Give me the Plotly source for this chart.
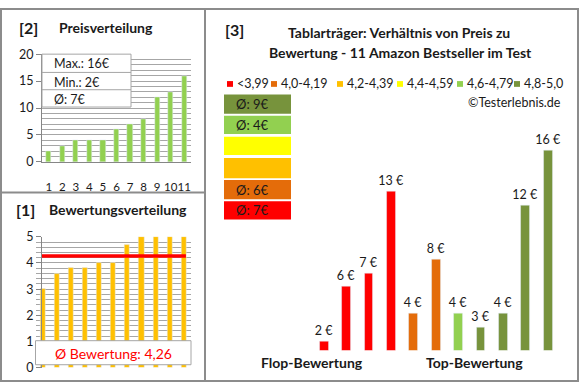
import plotly.graph_objects as go

# ---------------- data ----------------
price_idx = [1, 2, 3, 4, 5, 6, 7, 8, 9, 10, 11]
prices_sorted = [2, 3, 4, 4, 4, 6, 7, 8, 12, 13, 16]
price_ticks = [0, 5, 10, 15, 20]

rating_idx = [1, 2, 3, 4, 5, 6, 7, 8, 9, 10, 11]
ratings_sorted = [3.0, 3.6, 3.8, 3.8, 4.0, 4.0, 4.7, 5.0, 5.0, 5.0, 5.0]
rating_ticks = [0, 1, 2, 3, 4, 5]

prod_idx = [1, 2, 3, 4, 5, 6, 7, 8, 9, 10, 11]
prod_prices = [2, 6, 7, 13, 4, 8, 4, 3, 4, 12, 16]
prod_class = [0, 0, 0, 0, 1, 1, 4, 5, 5, 5, 5]

class_labels = ["<3,99", "4,0-4,19", "4,2-4,39", "4,4-4,59", "4,6-4,79", "4,8-5,0"]
class_colors = ["#FF0000", "#E46C0A", "#FFC000", "#FFFF00", "#92D050", "#77933C"]

FONT = "Lato"
W, H = 580, 390


def px(x):
    return x / W


def py(y):
    return 1 - y / H


fig = go.Figure()

# ---------- [2] Preisverteilung ----------
fig.add_trace(go.Bar(x=price_idx, y=prices_sorted, marker_color="#92D050",
                     width=0.38, xaxis="x", yaxis="y", showlegend=False))

# ---------- [1] Bewertungsverteilung ----------
fig.add_trace(go.Bar(x=rating_idx, y=ratings_sorted, marker_color="#FFC000",
                     width=0.36, xaxis="x2", yaxis="y2", showlegend=False))
avg_rating = sum(ratings_sorted) / len(ratings_sorted)
fig.add_trace(go.Scatter(x=[0.93, 11.14], y=[avg_rating, avg_rating], mode="lines",
                         line=dict(color="#FF0000", width=3.5),
                         xaxis="x2", yaxis="y2", showlegend=False))

# ---------- [3] product bars ----------
fig.add_trace(go.Bar(x=prod_idx, y=prod_prices,
                     marker_color=[class_colors[c] for c in prod_class],
                     width=0.4, text=[f"{p} €" for p in prod_prices],
                     textposition="outside", cliponaxis=False, constraintext="none",
                     textfont=dict(family=FONT, size=12.5, color="#1a1a1a"),
                     xaxis="x3", yaxis="y3", showlegend=False))

grid = "#a6a6a6"
axfont = dict(family=FONT, size=12.5, color="#1a1a1a")

fig.update_layout(
    width=W, height=H, margin=dict(l=0, r=0, t=0, b=0),
    paper_bgcolor="white", plot_bgcolor="white", bargap=0,
    xaxis=dict(domain=[px(42), px(191)], range=[0.5, 11.5], tickmode="array",
               tickvals=price_idx, ticktext=[str(i) for i in price_idx],
               tickangle=0, showgrid=False, showline=True, linecolor="#868686",
               ticks="outside", ticklen=14, tickcolor="rgba(0,0,0,0)",
               tickfont=dict(family=FONT, size=11.5, color="#1a1a1a"),
               zeroline=False, fixedrange=True),
    yaxis=dict(domain=[py(160), py(48)], range=[0, 20], tickmode="array",
               tickvals=price_ticks, ticktext=[str(t) for t in price_ticks],
               showgrid=True, gridcolor=grid, gridwidth=1,
               minor=dict(dtick=1, showgrid=True, gridcolor=grid, gridwidth=1),
               showline=True, linecolor="#868686", ticks="outside", ticklen=5,
               tickcolor="#868686", tickfont=axfont, zeroline=False),
    xaxis2=dict(domain=[px(35.5), px(191)], range=[0.5, 11.5], showticklabels=False,
                showgrid=False, showline=False, zeroline=False),
    yaxis2=dict(domain=[py(374), py(238)], range=[0, 5], tickmode="array",
                tickvals=rating_ticks, ticktext=[str(t) for t in rating_ticks],
                showgrid=True, gridcolor=grid, gridwidth=1,
                minor=dict(dtick=0.2, showgrid=True, gridcolor=grid, gridwidth=1),
                showline=True, linecolor="#868686", ticks="outside", ticklen=5,
                tickcolor="#868686", tickfont=axfont, zeroline=False),
    xaxis3=dict(domain=[px(312.8), px(559.2)], range=[0.5, 11.5], visible=False),
    yaxis3=dict(domain=[py(356), py(120)], range=[1.32, 18], visible=False),
)

shapes = []
ann = []

# borders
bc = "#8c8c8c"
shapes.append(dict(type="rect", xref="paper", yref="paper", x0=px(1), x1=px(578),
                   y0=py(388), y1=py(1), line=dict(color=bc, width=2)))
shapes.append(dict(type="line", xref="paper", yref="paper", x0=px(205), x1=px(205),
                   y0=py(388), y1=py(1), line=dict(color=bc, width=2)))
shapes.append(dict(type="line", xref="paper", yref="paper", x0=px(1), x1=px(205),
                   y0=py(192), y1=py(192), line=dict(color=bc, width=2)))

# headers
hfont = dict(family=FONT, size=16, color="#1a1a1a")
ann.append(dict(text="<b>[2]</b>", x=px(17), y=py(20), xanchor="left", yanchor="middle",
                font=hfont))
ann.append(dict(text="<b>Preisverteilung</b>", x=px(57), y=py(20), xanchor="left",
                yanchor="middle", font=dict(family=FONT, size=14, color="#1a1a1a")))
ann.append(dict(text="<b>[1]</b>", x=px(14), y=py(210), xanchor="left", yanchor="middle",
                font=hfont))
ann.append(dict(text="<b>Bewertungsverteilung</b>", x=px(47), y=py(210), xanchor="left",
                yanchor="middle", font=dict(family=FONT, size=14, color="#1a1a1a")))
ann.append(dict(text="<b>[3]</b>", x=px(223), y=py(22), xanchor="left", yanchor="middle",
                font=hfont))
ann.append(dict(text="<b>Tablarträger: Verhältnis von Preis zu</b>", x=px(399), y=py(26),
                xanchor="center", yanchor="middle",
                font=dict(family=FONT, size=14, color="#1a1a1a")))
ann.append(dict(text="<b>Bewertung - 11 Amazon Bestseller im Test</b>", x=px(400), y=py(46),
                xanchor="center", yanchor="middle",
                font=dict(family=FONT, size=14, color="#1a1a1a")))

# price stats box
shapes.append(dict(type="rect", xref="paper", yref="paper", x0=px(42), x1=px(131),
                   y0=py(103), y1=py(48), fillcolor="white", line=dict(color="#a6a6a6", width=1)))
for yy in (67, 85):
    shapes.append(dict(type="line", xref="paper", yref="paper", x0=px(42), x1=px(131),
                       y0=py(yy), y1=py(yy), line=dict(color="#a6a6a6", width=1)))
stats = [f"Max.: {max(prices_sorted)}€", f"Min.: {min(prices_sorted)}€",
         f"Ø: {round(sum(prices_sorted) / len(prices_sorted))}€"]
for s, yy in zip(stats, (58, 77, 95)):
    ann.append(dict(text=s, x=px(52), y=py(yy), xanchor="left", yanchor="middle",
                    font=dict(family=FONT, size=12.5, color="#1a1a1a")))

# rating average box
shapes.append(dict(type="rect", xref="paper", yref="paper", x0=px(35.5), x1=px(191),
                   y0=py(371), y1=py(346), fillcolor="white", line=dict(color="#a6a6a6", width=1)))
ann.append(dict(text="Ø Bewertung: " + f"{avg_rating:.2f}".replace(".", ","),
                x=px(113), y=py(359), xanchor="center", yanchor="middle",
                font=dict(family=FONT, size=14, color="#FF0000")))

# legend row
leg_x = [227, 271, 337, 397, 457, 514]
for lx, lab, col in zip(leg_x, class_labels, class_colors):
    shapes.append(dict(type="rect", xref="paper", yref="paper", x0=px(lx), x1=px(lx + 6),
                       y0=py(82), y1=py(76), fillcolor=col, line=dict(width=0)))
    ann.append(dict(text=lab, x=px(lx + 8), y=py(79), xanchor="left", yanchor="middle",
                    font=dict(family=FONT, size=12.5, color="#1a1a1a")))

ann.append(dict(text="©Testerlebnis.de", x=px(563), y=py(98), xanchor="right",
                yanchor="middle", font=dict(family=FONT, size=12.5, color="#1a1a1a")))

# class average boxes (top = best class)
box_rows = [(90, 110), (112, 131), (134, 153), (156, 177), (179, 199), (201, 220)]
for k, (y0, y1) in enumerate(box_rows):
    ci = 5 - k
    shapes.append(dict(type="rect", xref="paper", yref="paper", x0=px(224), x1=px(291),
                       y0=py(y1), y1=py(y0), fillcolor=class_colors[ci], line=dict(width=0)))
    vals = [p for p, c in zip(prod_prices, prod_class) if c == ci]
    if vals:
        avg = round(sum(vals) / len(vals) + 1e-9)
        ann.append(dict(text=f"Ø: {avg}€", x=px(234), y=py((y0 + y1) / 2),
                        xanchor="left", yanchor="middle",
                        font=dict(family=FONT, size=13, color="#1a1a1a")))

ann.append(dict(text="<b>Flop-Bewertung</b>", x=px(312), y=py(369), xanchor="center",
                yanchor="middle", font=dict(family=FONT, size=14, color="#1a1a1a")))
ann.append(dict(text="<b>Top-Bewertung</b>", x=px(474), y=py(369), xanchor="center",
                yanchor="middle", font=dict(family=FONT, size=14, color="#1a1a1a")))

for a in ann:
    a.update(xref="paper", yref="paper", showarrow=False)

fig.update_layout(shapes=shapes, annotations=ann)
post = (
    "document.documentElement.style.margin='0';"
    "document.documentElement.style.overflow='hidden';"
    "document.body.style.margin='0';document.body.style.overflow='hidden';"
    "var gd=document.getElementById('{plot_id}');"
    "gd.style.position='fixed';gd.style.top='0px';gd.style.left='0px';"
)
fig.write_html("out.html", config={"displayModeBar": False}, post_script=post)
